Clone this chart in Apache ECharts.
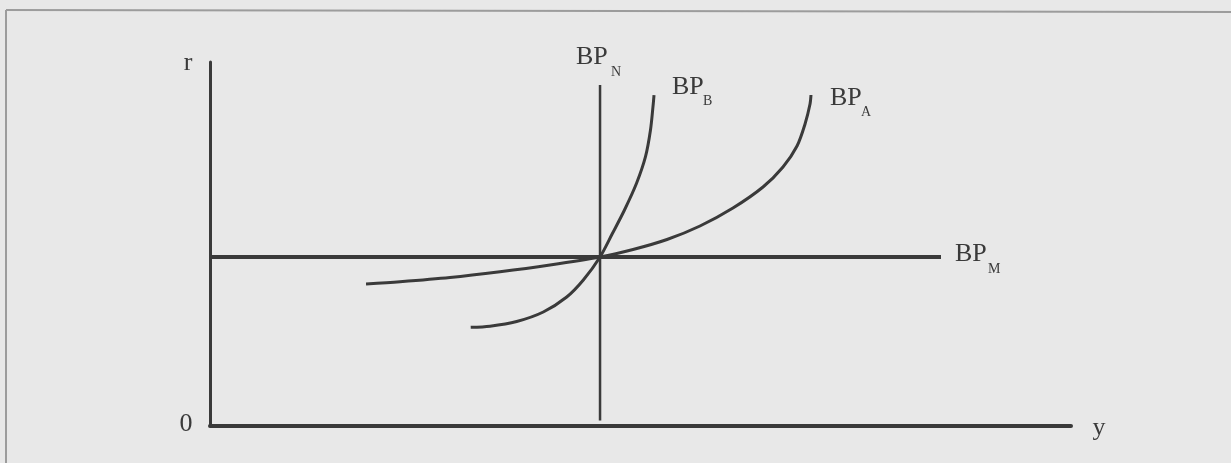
<!DOCTYPE html>
<html>
<head>
<meta charset="utf-8">
<script src="https://cdn.jsdelivr.net/npm/echarts@6/dist/echarts.min.js"></script>
<style>
  html, body { margin: 0; padding: 0; background: #e8e8e8; }
  #chart { width: 1231px; height: 463px; }
</style>
</head>
<body>
<div id="chart"></div>
<script>
// Axis ranges (abstract units)
const xRange = [0, 100];
const yRange = [0, 100];

// Axis labels
const originLabel = '0';
const xAxisLabel = 'y';
const yAxisLabel = 'r';

// Curve names (main text + subscript)
const curveNames = ['BP', 'BP', 'BP', 'BP'];
const curveSubs = ['N', 'B', 'A', 'M'];

// BP_N: vertical line
const bpN = [[45.3, 1.5], [45.3, 93.7]];
// BP_M: horizontal line
const bpM = [[0.2, 46.4], [84.9, 46.4]];
// BP_A: flatter curve
const bpA = [[18.12, 39.01], [22.07, 39.62], [27.87, 40.77], [33.68, 42.36], [39.49, 44.23],
             [45.30, 46.43], [49.13, 48.49], [53.08, 51.24], [56.91, 54.95], [60.74, 59.89],
             [64.23, 65.66], [66.55, 71.15], [68.18, 76.92], [69.11, 82.97], [69.69, 88.46],
             [69.80, 90.93]];
// BP_B: steeper curve
const bpB = [[30.28, 27.12], [32.52, 27.42], [35.62, 28.71], [38.71, 31.32], [41.43, 35.44],
             [43.36, 40.11], [45.30, 46.43], [46.75, 52.94], [48.14, 59.34], [49.54, 66.68],
             [50.58, 73.98], [51.16, 81.32], [51.45, 87.72], [51.57, 90.93]];

const ink = '#3a3a3a';
const serif = '"Liberation Serif", "DejaVu Serif", serif';

const chart = echarts.init(document.getElementById('chart'), null, { renderer: 'canvas' });

const option = {
  animation: false,
  backgroundColor: '#e8e8e8',
  grid: { left: 210, right: 160, top: 62, bottom: 37, containLabel: false },
  xAxis: {
    type: 'value', min: xRange[0], max: xRange[1],
    axisLine: { show: true, onZero: false, lineStyle: { color: ink, width: 4 } },
    axisTick: { show: false }, axisLabel: { show: false }, splitLine: { show: false }
  },
  yAxis: {
    type: 'value', min: yRange[0], max: yRange[1],
    axisLine: { show: true, onZero: false, lineStyle: { color: ink, width: 3 } },
    axisTick: { show: false }, axisLabel: { show: false }, splitLine: { show: false }
  },
  series: [
    { name: 'BPN', type: 'line', data: bpN, showSymbol: false, symbol: 'none',
      lineStyle: { color: ink, width: 2.5 }, silent: true },
    { name: 'BPM', type: 'line', data: bpM, showSymbol: false, symbol: 'none',
      lineStyle: { color: ink, width: 4 }, silent: true },
    { name: 'BPA', type: 'line', data: bpA, smooth: 0.3, showSymbol: false, symbol: 'none',
      lineStyle: { color: ink, width: 3 }, silent: true },
    { name: 'BPB', type: 'line', data: bpB, smooth: 0.3, showSymbol: false, symbol: 'none',
      lineStyle: { color: ink, width: 3 }, silent: true }
  ]
};
chart.setOption(option);

function px(pt) { return chart.convertToPixel({ gridIndex: 0 }, pt); }

function txt(text, x, y, size, align) {
  return {
    type: 'text', silent: true,
    style: { text: text, x: x, y: y, font: size + 'px ' + serif, fill: ink,
             align: align || 'left', verticalAlign: 'middle' }
  };
}

const elems = [];
// scan frame
elems.push({ type: 'line', silent: true, shape: { x1: 6, y1: 10, x2: 1231, y2: 12 },
             style: { stroke: '#9c9c9c', lineWidth: 2 } });
elems.push({ type: 'line', silent: true, shape: { x1: 6, y1: 10, x2: 6, y2: 463 },
             style: { stroke: '#9c9c9c', lineWidth: 2 } });

const mainSize = 26, subSize = 14;
// label anchors: ends of each curve
const anchors = [
  { p: px(bpN[bpN.length - 1]), d: [-24, -28], s: [11, -13] },
  { p: px(bpB[bpB.length - 1]), d: [18, -8], s: [49, 6] },
  { p: px(bpA[bpA.length - 1]), d: [19, 3], s: [50, 17] },
  { p: px(bpM[bpM.length - 1]), d: [14, -3], s: [47, 12] }
];
anchors.forEach((a, i) => {
  elems.push(txt(curveNames[i], a.p[0] + a.d[0], a.p[1] + a.d[1], mainSize));
  elems.push(txt(curveSubs[i], a.p[0] + a.s[0], a.p[1] + a.s[1], subSize));
});

const origin = px([xRange[0], yRange[0]]);
const xEnd = px([xRange[1], yRange[0]]);
const yEnd = px([xRange[0], yRange[1]]);
elems.push(txt(originLabel, origin[0] - 24, origin[1] - 2, mainSize, 'center'));
elems.push(txt(xAxisLabel, xEnd[0] + 28, xEnd[1] + 2, mainSize, 'center'));
elems.push(txt(yAxisLabel, yEnd[0] - 22, yEnd[1] + 1, mainSize, 'center'));

chart.setOption({ graphic: { elements: elems } });
</script>
</body>
</html>
